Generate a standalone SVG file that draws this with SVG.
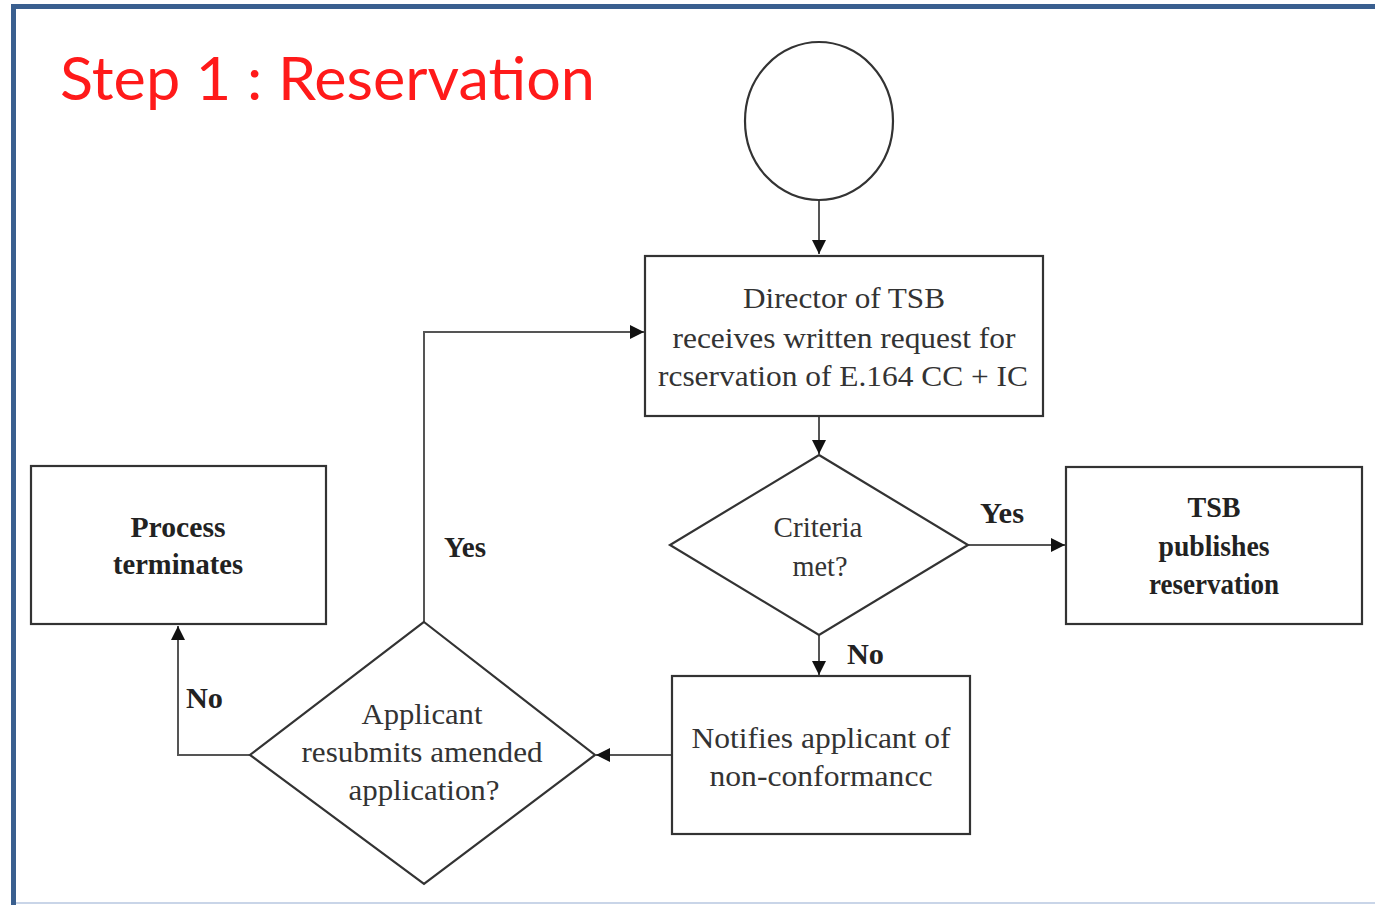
<svg xmlns="http://www.w3.org/2000/svg" width="1375" height="905" viewBox="0 0 1375 905">
  <defs>
    <marker id="arrow" viewBox="0 0 10 10" refX="10" refY="5" markerWidth="14" markerHeight="14" markerUnits="userSpaceOnUse" orient="auto">
      <path d="M0,0 L10,5 L0,10 z" fill="#111"/>
    </marker>
    <style>
      .shape { fill: #fff; stroke: #333; stroke-width: 2.2; }
      .conn { fill: none; stroke: #555; stroke-width: 2; }
      .t { font-family: "Liberation Serif", "Times New Roman", serif; font-size: 30px; fill: #333; text-anchor: middle; }
      .b { font-family: "Liberation Serif", "Times New Roman", serif; font-size: 29px; font-weight: bold; fill: #222; }
      .bc { text-anchor: middle; }
    </style>
  </defs>

  <!-- page background and frame -->
  <rect x="0" y="0" width="1375" height="905" fill="#fff"/>
  <rect x="11" y="4" width="1364" height="5" fill="#3a5f8f"/>
  <rect x="11" y="4" width="5" height="901" fill="#3a5f8f"/>
  <rect x="16" y="902" width="1359" height="2" fill="#c9d5e8"/>

  <text x="60" y="100" font-family="Lato, 'Open Sans', sans-serif" font-size="60" fill="#ff1a1a" textLength="535" lengthAdjust="spacingAndGlyphs">Step 1 : Reservation</text>

  <!-- connectors -->
  <g id="connectors">
    <path class="conn" d="M819,200 V254" marker-end="url(#arrow)"/>
    <path class="conn" d="M819,417 V454" marker-end="url(#arrow)"/>
    <path class="conn" d="M968,545 H1065" marker-end="url(#arrow)"/>
    <path class="conn" d="M819,635 V675" marker-end="url(#arrow)"/>
    <path class="conn" d="M672,755 H596" marker-end="url(#arrow)"/>
    <path class="conn" d="M424,622 V332 H644" marker-end="url(#arrow)"/>
    <path class="conn" d="M250,755 H178 V626" marker-end="url(#arrow)"/>
    <text class="b" x="980" y="523" textLength="44" lengthAdjust="spacingAndGlyphs">Yes</text>
    <text class="b" x="847" y="664" textLength="37" lengthAdjust="spacingAndGlyphs">No</text>
    <text class="b" x="444" y="557" textLength="42" lengthAdjust="spacingAndGlyphs">Yes</text>
    <text class="b" x="186" y="708" textLength="37" lengthAdjust="spacingAndGlyphs">No</text>
  </g>

  <g id="start">
    <ellipse class="shape" cx="819" cy="121" rx="74" ry="79"/>
  </g>

  <g id="receive-request">
    <rect class="shape" x="645" y="256" width="398" height="160"/>
    <text class="t" x="844" y="308" textLength="202" lengthAdjust="spacingAndGlyphs">Director of TSB</text>
    <text class="t" x="844" y="348" textLength="343" lengthAdjust="spacingAndGlyphs">receives written request for</text>
    <text class="t" x="843" y="386" textLength="370" lengthAdjust="spacingAndGlyphs">rcservation of E.164 CC + IC</text>
  </g>

  <g id="criteria-met">
    <polygon class="shape" points="819,455 968,545 819,635 670,545"/>
    <text class="t" x="818" y="537" textLength="89" lengthAdjust="spacingAndGlyphs">Criteria</text>
    <text class="t" x="820" y="576" textLength="55" lengthAdjust="spacingAndGlyphs">met?</text>
  </g>

  <g id="publish-reservation">
    <rect class="shape" x="1066" y="467" width="296" height="157"/>
    <text class="b bc" x="1214" y="517" textLength="53" lengthAdjust="spacingAndGlyphs">TSB</text>
    <text class="b bc" x="1214" y="556" textLength="111" lengthAdjust="spacingAndGlyphs">publishes</text>
    <text class="b bc" x="1214" y="594" textLength="130" lengthAdjust="spacingAndGlyphs">reservation</text>
  </g>

  <g id="notify-applicant">
    <rect class="shape" x="672" y="676" width="298" height="158"/>
    <text class="t" x="821" y="748" textLength="259" lengthAdjust="spacingAndGlyphs">Notifies applicant of</text>
    <text class="t" x="821" y="786" textLength="223" lengthAdjust="spacingAndGlyphs">non-conformancc</text>
  </g>

  <g id="resubmit-decision">
    <polygon class="shape" points="424,622 595,755 424,884 250,755"/>
    <text class="t" x="422" y="724" textLength="121" lengthAdjust="spacingAndGlyphs">Applicant</text>
    <text class="t" x="422" y="762" textLength="241" lengthAdjust="spacingAndGlyphs">resubmits amended</text>
    <text class="t" x="424" y="800" textLength="151" lengthAdjust="spacingAndGlyphs">application?</text>
  </g>

  <g id="process-terminates">
    <rect class="shape" x="31" y="466" width="295" height="158"/>
    <text class="b bc" x="178" y="537" textLength="95" lengthAdjust="spacingAndGlyphs">Process</text>
    <text class="b bc" x="178" y="574" textLength="130" lengthAdjust="spacingAndGlyphs">terminates</text>
  </g>
</svg>
